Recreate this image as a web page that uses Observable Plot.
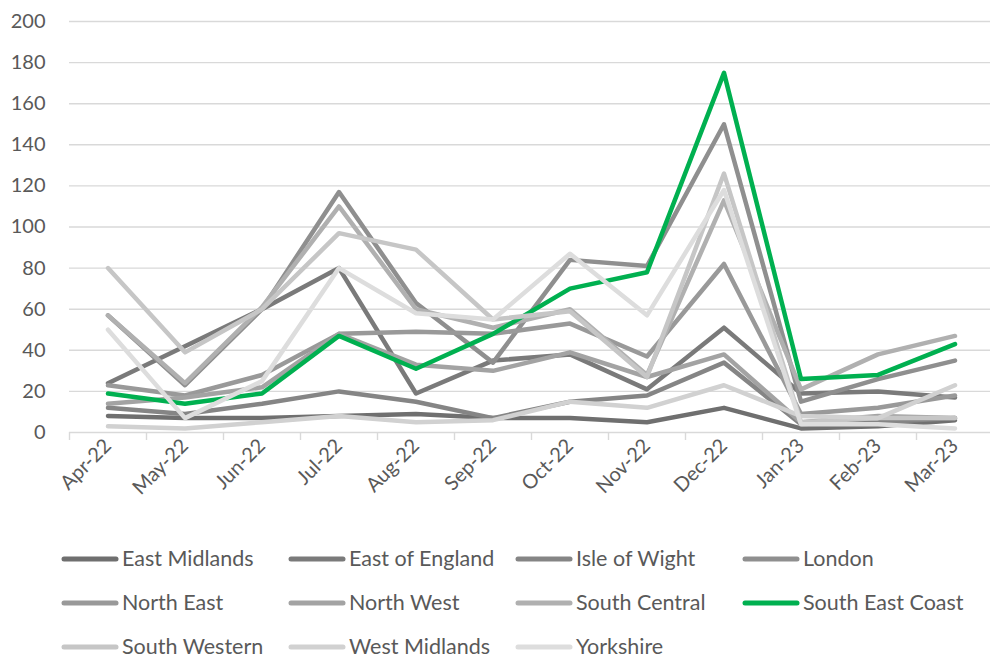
<!DOCTYPE html>
<html>
<head>
<meta charset="utf-8">
<script src="https://cdn.jsdelivr.net/npm/d3@7"></script>
<script src="https://cdn.jsdelivr.net/npm/@observablehq/plot@0.6"></script>
<style>
  html, body { margin: 0; padding: 0; background: #fff; }
  #chart svg { display: block; }
  .legend { font-family: Lato, "Open Sans", sans-serif; font-size: 21.5px; line-height: 1; color: #595959; padding-left: 61px; }
  .legend .row { height: 44px; display: flex; align-items: center; }
  .legend .item { width: 227px; display: flex; align-items: center; white-space: nowrap; }
  .legend .item svg { margin-right: 3px; flex: none; }
</style>
</head>
<body>
<div id="chart"></div>
<div class="legend" id="legend"></div>
<script>
// Months on the x axis
const months = ["Apr-22", "May-22", "Jun-22", "Jul-22", "Aug-22", "Sep-22",
                "Oct-22", "Nov-22", "Dec-22", "Jan-23", "Feb-23", "Mar-23"];

// Ambulance regions, in legend order
const regions = ["East Midlands", "East of England", "Isle of Wight", "London",
                 "North East", "North West", "South Central", "South East Coast",
                 "South Western", "West Midlands", "Yorkshire"];

// Monthly values per region
const eastMidlands   = [8, 7, 7, 8, 9, 7, 7, 5, 12, 2, 3, 6];
const eastOfEngland  = [24, 42, 60, 80, 19, 35, 38, 21, 51, 19, 20, 17];
const isleOfWight    = [12, 9, 14, 20, 15, 7, 15, 18, 34, 4, 5, 7];
const london         = [57, 23, 60, 117, 63, 34, 84, 81, 150, 15, 26, 35];
const northEast      = [23, 18, 28, 48, 49, 48, 53, 37, 82, 9, 12, 18];
const northWest      = [14, 17, 22, 48, 33, 30, 39, 27, 38, 5, 8, 7];
const southCentral   = [57, 24, 61, 110, 60, 51, 60, 28, 113, 21, 38, 47];
const southEastCoast = [19, 14, 19, 47, 31, 48, 70, 78, 175, 26, 28, 43];
const southWestern   = [80, 39, 60, 97, 89, 55, 59, 27, 126, 5, 7, 7];
const westMidlands   = [3, 2, 5, 8, 5, 6, 15, 12, 23, 8, 7, 23];
const yorkshire      = [50, 7, 25, 80, 58, 55, 87, 57, 118, 4, 4, 2];

const seriesValues = [eastMidlands, eastOfEngland, isleOfWight, london, northEast,
  northWest, southCentral, southEastCoast, southWestern, westMidlands, yorkshire];

// Series colours: a grey ramp with South East Coast highlighted
const colors = ["#6f6f6f", "#7a7a7a", "#858585", "#8f8f8f", "#999999", "#a3a3a3",
                "#b0b0b0", "#00b050", "#c6c6c6", "#d1d1d1", "#dddddd"];

const yTicks = d3.range(0, 201, 20);

const rows = regions.flatMap((region, k) =>
  seriesValues[k].map((value, i) => ({region, i, value})));

const font = "Lato, 'Open Sans', sans-serif";

const chart = Plot.plot({
  width: 990,
  height: 537,
  marginLeft: 69,
  marginRight: 0,
  marginTop: 21,
  marginBottom: 105,
  style: {fontFamily: font, fontSize: "20px", color: "#595959", background: "#fff"},
  x: {type: "linear", domain: [0, 12], range: [69, 993]},
  y: {domain: [0, 200], range: [432, 21]},
  color: {domain: regions, range: colors},
  marks: [
    Plot.gridY(yTicks, {stroke: "#d9d9d9", strokeOpacity: 1, strokeWidth: 1.4}),
    Plot.axisY(yTicks, {tickSize: 0, tickPadding: 24, fontSize: 20, fill: "#595959", label: null}),
    // category boundary ticks below the axis
    Plot.axisX(d3.range(0, 13), {tickSize: 8, tickFormat: () => "", stroke: "#d9d9d9", strokeWidth: 1.4, label: null}),
    // month labels at category centres
    Plot.axisX(d3.range(12).map(i => i + 0.5), {
      tickSize: 0, tickPadding: 10, tickRotate: -45, fontSize: 20, fill: "#595959",
      tickFormat: v => months[Math.floor(v)], label: null
    }),
    Plot.line(rows, {
      x: d => d.i + 0.5, y: "value", z: "region", stroke: "region",
      strokeWidth: 4.5, strokeLinejoin: "round", strokeLinecap: "round"
    })
  ]
});
document.getElementById("chart").appendChild(chart);

// Legend: three rows of four entries
const legend = d3.select("#legend");
for (let r = 0; r < Math.ceil(regions.length / 4); r++) {
  const row = legend.append("div").attr("class", "row");
  regions.slice(r * 4, r * 4 + 4).forEach((name, j) => {
    const k = r * 4 + j;
    const item = row.append("div").attr("class", "item");
    const sw = item.append("svg").attr("width", 58).attr("height", 8);
    sw.append("line").attr("x1", 3).attr("x2", 55).attr("y1", 4).attr("y2", 4)
      .attr("stroke", colors[k]).attr("stroke-width", 5).attr("stroke-linecap", "round");
    item.append("span").text(name);
  });
}
</script>
</body>
</html>
